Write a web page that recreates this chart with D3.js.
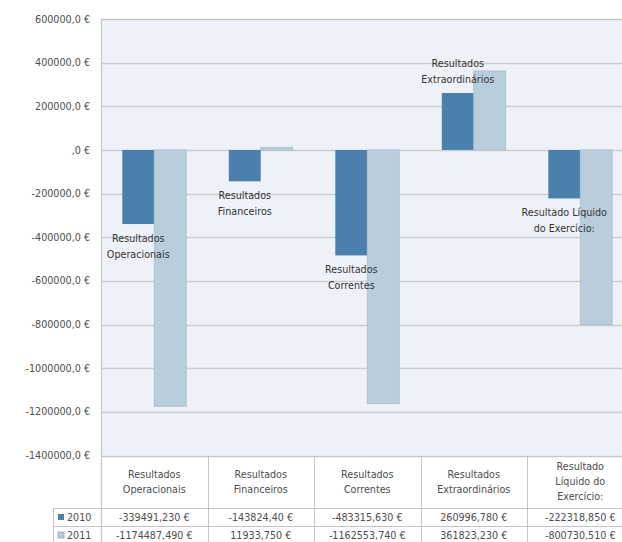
<!DOCTYPE html>
<html>
<head>
<meta charset="utf-8">
<script src="https://cdn.jsdelivr.net/npm/d3@7/dist/d3.min.js"></script>
<style>
  html, body { margin: 0; padding: 0; background: #ffffff; }
  svg { display: block; font-family: "DejaVu Sans", Verdana, sans-serif; }
</style>
</head>
<body>
<svg id="chart" width="622" height="542"></svg>
<script>
// Categories (plot labels and table headers)
const categories = ["Operacionais", "Financeiros", "Correntes", "Extraordinarios", "Liquido"];
const plotLabels = [
  ["Resultados", "Operacionais"],
  ["Resultados", "Financeiros"],
  ["Resultados", "Correntes"],
  ["Resultados", "Extraordinários"],
  ["Resultado Líquido", "do Exercício:"]
];
const headerLabels = [
  ["Resultados", "Operacionais"],
  ["Resultados", "Financeiros"],
  ["Resultados", "Correntes"],
  ["Resultados", "Extraordinários"],
  ["Resultado", "Líquido do", "Exercício:"]
];

// Series
const seriesNames = ["2010", "2011"];
const values2010 = [-339491.23, -143824.40, -483315.63, 260996.78, -222318.85];
const values2011 = [-1174487.49, 11933.75, -1162553.74, 361823.23, -800730.51];
const text2010 = ["-339491,230 €", "-143824,40 €", "-483315,630 €", "260996,780 €", "-222318,850 €"];
const text2011 = ["-1174487,490 €", "11933,750 €", "-1162553,740 €", "361823,230 €", "-800730,510 €"];

// Y axis ticks
const yTicks = [600000, 400000, 200000, 0, -200000, -400000, -600000, -800000, -1000000, -1200000, -1400000];
const yTickLabels = ["600000,0 €", "400000,0 €", "200000,0 €", ",0 €", "-200000,0 €", "-400000,0 €",
  "-600000,0 €", "-800000,0 €", "-1000000,0 €", "-1200000,0 €", "-1400000,0 €"];

const colors = { "2010": "#4a80ab", "2011": "#b9cddc" };
const stroke2011 = "#a7bccb";

const svg = d3.select("#chart");
const plot = { left: 101, right: 633.5, top: 19, bottom: 455.5 };

const y = d3.scaleLinear().domain([-1400000, 600000]).range([plot.bottom, plot.top]);
const x0 = d3.scaleBand().domain(categories).range([plot.left, plot.right]).padding(0);
const bw = x0.bandwidth();
const x1 = d3.scaleBand().domain(seriesNames).range([bw * 0.2, bw * 0.8]).padding(0);

// Plot background
svg.append("rect")
  .attr("x", plot.left).attr("y", plot.top)
  .attr("width", plot.right - plot.left).attr("height", plot.bottom - plot.top)
  .attr("fill", "#eef2f8");

// Gridlines
svg.append("g")
  .selectAll("line")
  .data(yTicks)
  .join("line")
  .attr("x1", plot.left).attr("x2", plot.right)
  .attr("y1", d => Math.round(y(d)) + 0.5).attr("y2", d => Math.round(y(d)) + 0.5)
  .attr("stroke", d => (d === 600000 || d === -1400000) ? "#c4c8cc" : "#c9ced3")
  .attr("stroke-width", 1.3);

// Left border
svg.append("line")
  .attr("x1", plot.left + 0.5).attr("x2", plot.left + 0.5)
  .attr("y1", plot.top).attr("y2", 544)
  .attr("stroke", "#c2c6ca").attr("stroke-width", 1.2);

// Y axis labels
const yAxis = d3.axisLeft(y).tickValues(yTicks)
  .tickFormat((d, i) => yTickLabels[i]).tickSize(0).tickPadding(11);
const gy = svg.append("g").attr("transform", `translate(${plot.left},0)`).call(yAxis);
gy.select(".domain").remove();
gy.selectAll("text")
  .attr("font-family", "DejaVu Sans, Verdana, sans-serif")
  .attr("font-size", 9.6)
  .attr("fill", "#4d4d4d");

// Bars
const rows = categories.map((c, i) => ({ cat: c, i, vals: [
  { s: "2010", v: values2010[i] },
  { s: "2011", v: values2011[i] }
]}));

const groups = svg.append("g").selectAll("g")
  .data(rows)
  .join("g")
  .attr("transform", d => `translate(${x0(d.cat)},0)`);

groups.selectAll("rect")
  .data(d => d.vals)
  .join("rect")
  .attr("x", d => x1(d.s))
  .attr("width", x1.bandwidth())
  .attr("y", d => y(Math.max(0, d.v)))
  .attr("height", d => Math.max(1.5, Math.abs(y(d.v) - y(0))))
  .attr("fill", d => colors[d.s])
  .attr("stroke", d => d.s === "2011" ? stroke2011 : "none")
  .attr("stroke-width", 0.8);

// Category labels next to the 2010 bar end
groups.append("text")
  .attr("text-anchor", "middle")
  .attr("font-size", 9.6)
  .attr("fill", "#333333")
  .each(function(d) {
    const v = values2010[d.i];
    const cx = x1("2010") + x1.bandwidth() / 2;
    const lines = plotLabels[d.i];
    const sel = d3.select(this);
    const endY = y(v);
    lines.forEach((t, k) => {
      const yy = v < 0 ? endY + 18 + k * 16 : endY - 26 + k * 16;
      sel.append("tspan").attr("x", cx).attr("y", yy).text(t);
    });
  });

// Data table
const table = svg.append("g").attr("font-size", 9.6).attr("fill", "#4d4d4d");
const rowTop = plot.bottom, headerBottom = 508, row1Bottom = 526, row2Bottom = 544;
const lineColor = "#c4c4c4";

// Horizontal table lines
[[plot.left, headerBottom], [53, headerBottom], [53, row1Bottom], [53, row2Bottom]].forEach(([xs, yy]) => {
  table.append("line")
    .attr("x1", xs).attr("x2", plot.right)
    .attr("y1", yy + 0.5).attr("y2", yy + 0.5)
    .attr("stroke", lineColor);
});
// Vertical table lines at column boundaries
categories.forEach(c => {
  const xb = Math.round(x0(c) + bw) + 0.5;
  table.append("line")
    .attr("x1", xb).attr("x2", xb)
    .attr("y1", rowTop).attr("y2", row2Bottom)
    .attr("stroke", lineColor);
});
// Legend cell left edge
table.append("line")
  .attr("x1", 53.5).attr("x2", 53.5)
  .attr("y1", headerBottom).attr("y2", row2Bottom)
  .attr("stroke", lineColor);

// Header cells
categories.forEach((c, i) => {
  const cx = x0(c) + bw / 2;
  const lines = headerLabels[i];
  const mid = (rowTop + headerBottom) / 2;
  const t = table.append("text").attr("text-anchor", "middle");
  lines.forEach((s, k) => {
    t.append("tspan")
      .attr("x", cx)
      .attr("y", mid + (k - (lines.length - 1) / 2) * 15 + 3.5)
      .text(s);
  });
});

// Value rows
[[text2010, (headerBottom + row1Bottom) / 2], [text2011, (row1Bottom + row2Bottom) / 2]].forEach(([texts, cy]) => {
  categories.forEach((c, i) => {
    table.append("text")
      .attr("x", x0(c) + bw / 2)
      .attr("y", cy + 3.5)
      .attr("text-anchor", "middle")
      .text(texts[i]);
  });
});

// Legend keys
seriesNames.forEach((s, k) => {
  const cy = k === 0 ? (headerBottom + row1Bottom) / 2 : (row1Bottom + row2Bottom) / 2;
  table.append("rect")
    .attr("x", 58).attr("y", cy - 3)
    .attr("width", 6).attr("height", 6)
    .attr("fill", colors[s])
    .attr("stroke", s === "2011" ? "#8fa5b5" : "none")
    .attr("stroke-width", 0.8);
  table.append("text")
    .attr("x", 67).attr("y", cy + 3.5)
    .text(s);
});
</script>
</body>
</html>
